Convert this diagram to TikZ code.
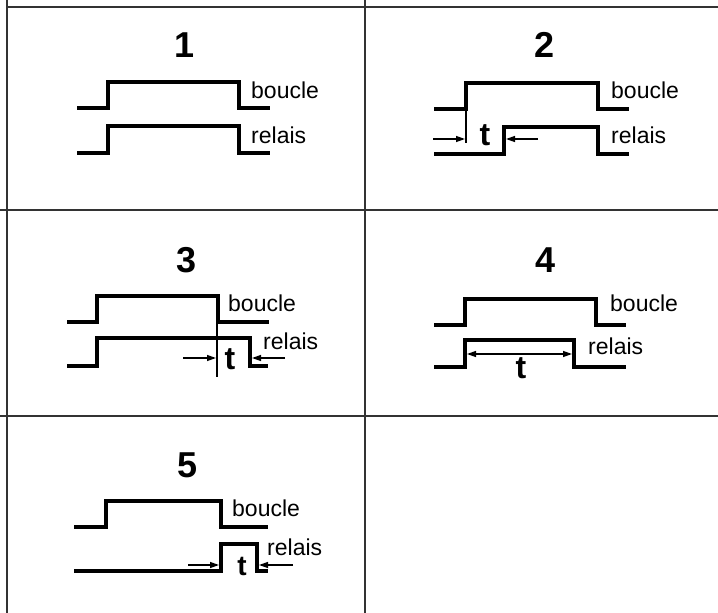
\documentclass[tikz,border=0pt]{standalone}
\usepackage{fontspec}
\setmainfont{Liberation Sans}
\usetikzlibrary{arrows.meta}
\begin{document}
\begin{tikzpicture}[x=1pt,y=-1pt,
  grid/.style={line width=2pt, black!80},
  sig/.style={line width=3.5pt, line join=miter},
  thinline/.style={line width=1.5pt},
  dim/.style={line width=1.3pt, -{Triangle[length=9pt,width=6pt]}},
  dimboth/.style={line width=1.3pt, {Triangle[length=9pt,width=6pt]}-{Triangle[length=9pt,width=6pt]}},
  num/.style={font=\fontsize{36}{40}\selectfont\bfseries, inner sep=0pt},
  lbl/.style={font=\fontsize{23}{27}\selectfont, inner sep=0pt, anchor=base west},
  tlbl/.style={font=\fontsize{32}{35}\selectfont\bfseries, inner sep=0pt},
]
\useasboundingbox (0,0) rectangle (718,613);
% grid
\draw[grid] (7,0) -- (7,613);
\draw[grid] (365,0) -- (365,613);
\draw[grid] (7,7) -- (718,7);
\draw[grid] (0,210) -- (718,210);
\draw[grid] (0,415.5) -- (718,415.5);

% cell 1
\node[num] (n1) at (185,45) {1};
\draw[sig] (77,108) -- (108,108) -- (108,82) -- (239,82) -- (239,108) -- (270,108);
\draw[sig] (77,153) -- (108,153) -- (108,126) -- (239,126) -- (239,153) -- (270,153);
\node[lbl] (b1) at (251,98) {boucle};
\node[lbl] (r1) at (251,143) {relais};

% cell 2
\node[num] (n2) at (545,45) {2};
\draw[sig] (434,109) -- (466,109) -- (466,83) -- (598,83) -- (598,109) -- (629,109);
\draw[thinline] (466,109) -- (466,143);
\draw[sig] (434,154) -- (504,154) -- (504,127) -- (598,127) -- (598,154) -- (629,154);
\coordinate (a2s) at (433,139); \coordinate (a2e) at (465,139);
\coordinate (c2s) at (538,139); \coordinate (c2e) at (506,139);
\draw[dim] (a2s) -- (a2e);
\draw[dim] (c2s) -- (c2e);
\node[tlbl] (t2) at (485,135) {t};
\node[lbl] (b2) at (611,98) {boucle};
\node[lbl] (r2) at (611,143) {relais};

% cell 3
\node[num] (n3) at (187,260) {3};
\draw[sig] (67,322) -- (97,322) -- (97,296) -- (218,296) -- (218,322) -- (269,322);
\draw[sig] (67,366) -- (97,366) -- (97,338) -- (250,338) -- (250,366) -- (268,366);
\draw[thinline] (217,322) -- (217,377);
\coordinate (a3s) at (183,358); \coordinate (a3e) at (216,358);
\coordinate (c3s) at (285,358); \coordinate (c3e) at (252,358);
\draw[dim] (a3s) -- (a3e);
\draw[dim] (c3s) -- (c3e);
\node[tlbl] (t3) at (230,359) {t};
\node[lbl] (b3) at (228,311) {boucle};
\node[lbl] (r3) at (263,349) {relais};

% cell 4
\node[num] (n4) at (546,260) {4};
\draw[sig] (434,325) -- (465,325) -- (465,299) -- (596,299) -- (596,325) -- (626,325);
\draw[sig] (434,367) -- (465,367) -- (465,340) -- (574,340) -- (574,367) -- (626,367);
\coordinate (a4s) at (467,354); \coordinate (a4e) at (572,354);
\draw[dimboth] (a4s) -- (a4e);
\node[tlbl] (t4) at (521,368) {t};
\node[lbl] (b4) at (610,311) {boucle};
\node[lbl] (r4) at (588,354) {relais};

% cell 5
\node[num] (n5) at (188,465) {5};
\draw[sig] (74,527) -- (106,527) -- (106,501) -- (221,501) -- (221,527) -- (268,527);
\draw[sig] (74,571) -- (221,571) -- (221,544) -- (257,544) -- (257,571) -- (268,571);
\coordinate (a5s) at (188,565); \coordinate (a5e) at (219,565);
\coordinate (c5s) at (293,565); \coordinate (c5e) at (259,565);
\draw[dim] (a5s) -- (a5e);
\draw[dim] (c5s) -- (c5e);
\node[tlbl, font=\fontsize{28}{31}\selectfont\bfseries] (t5) at (242,566) {t};
\node[lbl] (b5) at (232,516) {boucle};
\node[lbl] (r5) at (267,555) {relais};
\end{tikzpicture}
\end{document}
